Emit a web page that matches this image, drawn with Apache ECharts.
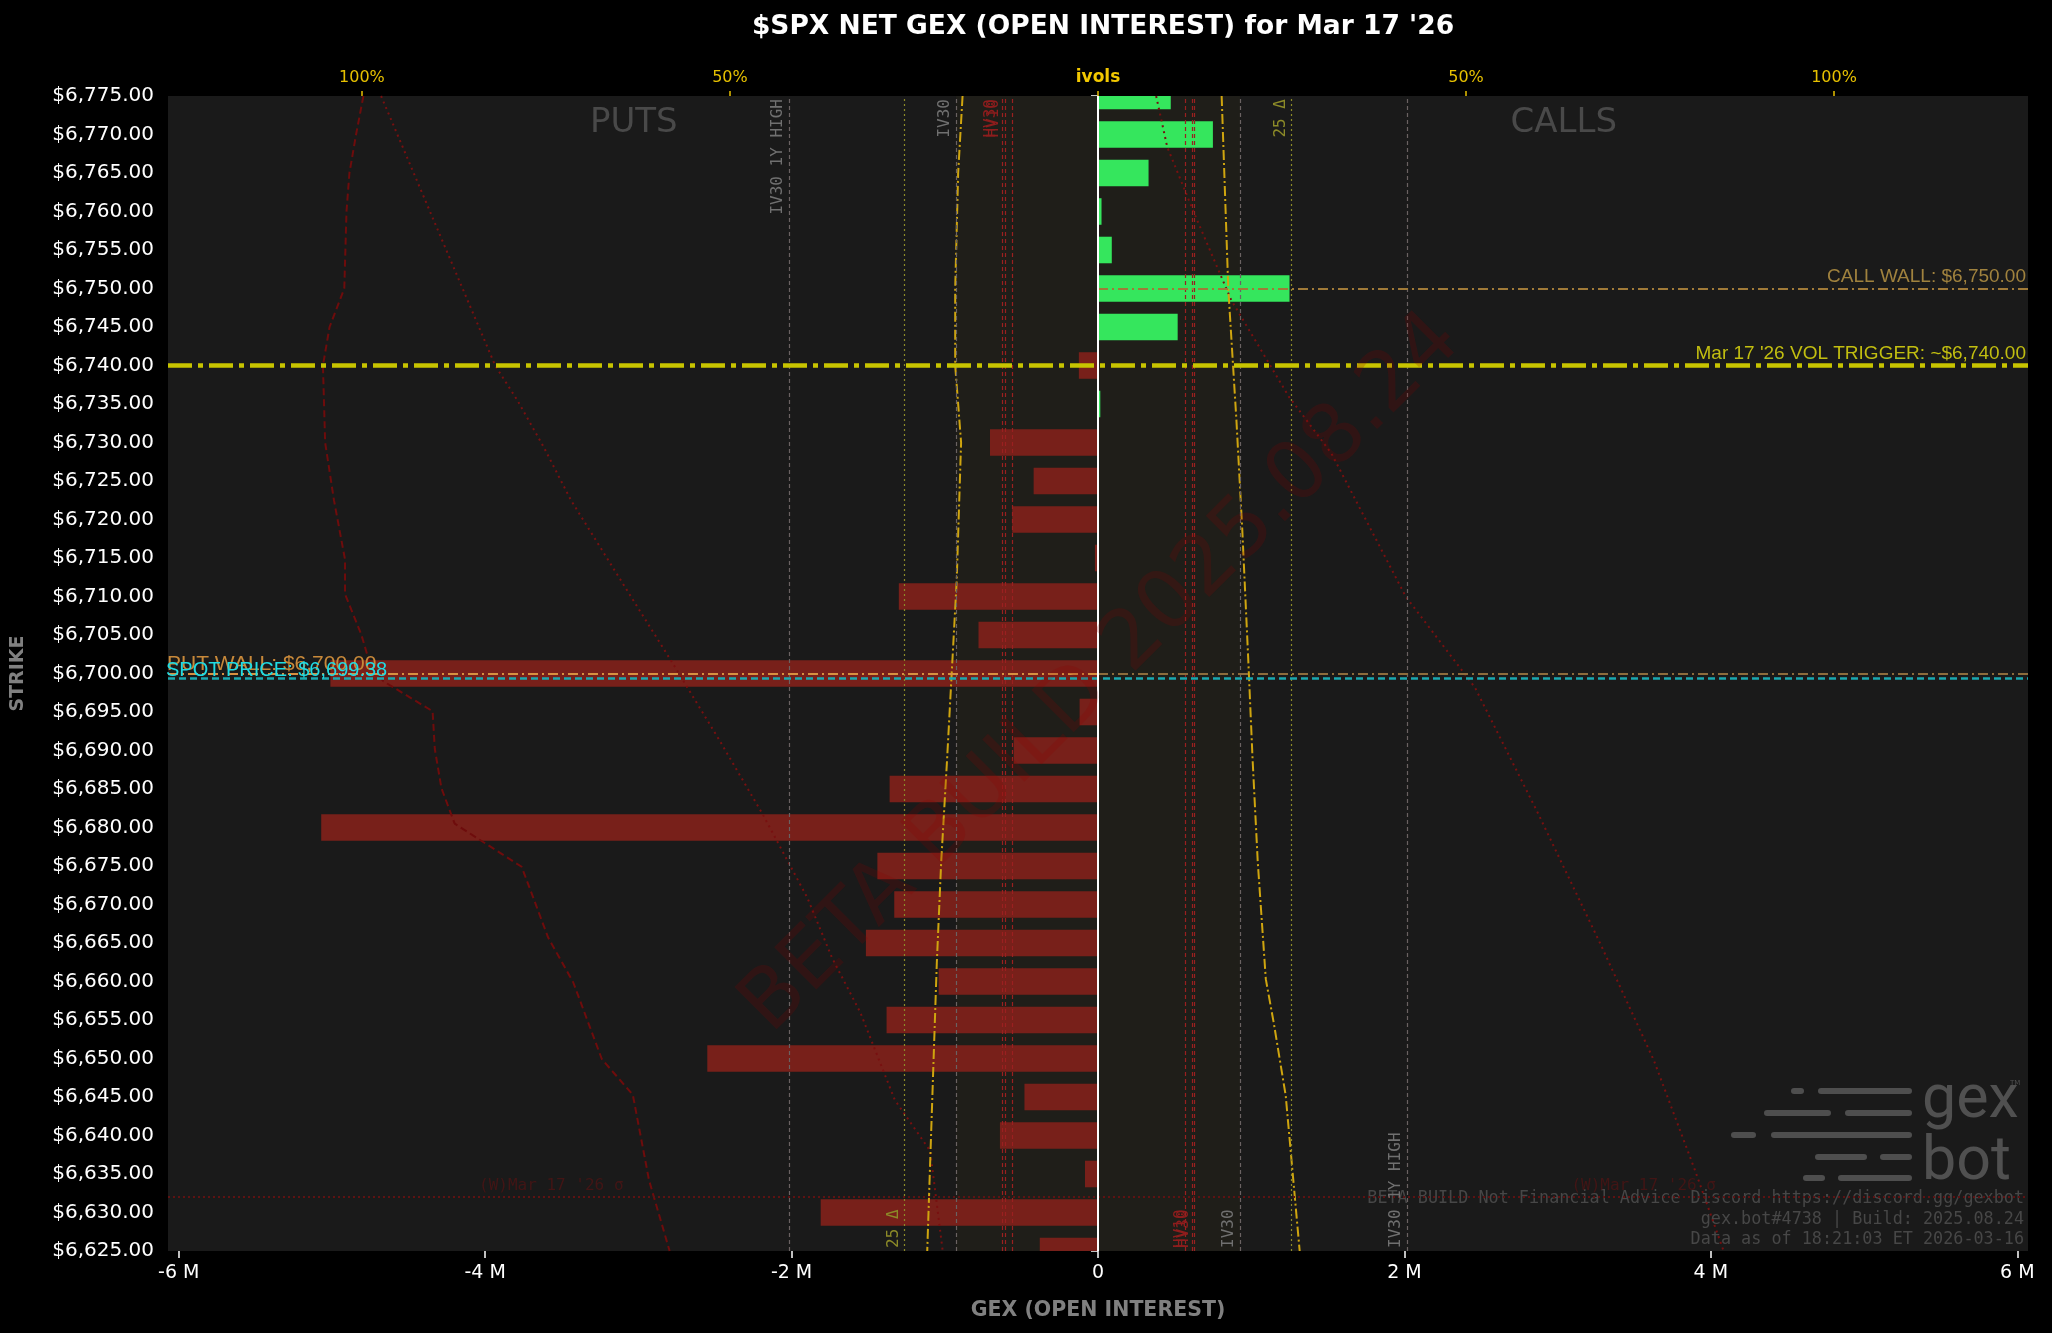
<!DOCTYPE html>
<html>
<head>
<meta charset="utf-8">
<script src="https://cdn.jsdelivr.net/npm/echarts@6/dist/echarts.min.js"></script>
<style>
html, body { margin: 0; padding: 0; background: #000; }
#chart { width: 2052px; height: 1333px; }
</style>
</head>
<body>
<div id="chart"></div>
<script>
// strikes from bottom to top
var strikes = [6625, 6630, 6635, 6640, 6645, 6650, 6655, 6660, 6665, 6670,
	6675, 6680, 6685, 6690, 6695, 6700, 6705, 6710, 6715, 6720,
	6725, 6730, 6735, 6740, 6745, 6750, 6755, 6760, 6765, 6770, 6775];
// net gex by strike, in millions
var netGex = [-0.38, -1.81, -0.085, -0.64, -0.48, -2.55, -1.38, -1.04, -1.515, -1.33,
	-1.44, -5.07, -1.36, -0.55, -0.12, -5.01, -0.78, -1.30, -0.02, -0.56,
	-0.42, -0.705, 0.015, -0.125, 0.52, 1.25, 0.09, 0.023, 0.33, 0.75, 0.475];

var xTicks = [-6, -4, -2, 0, 2, 4, 6];
var ivTicks = [-100, -50, 0, 50, 100];

// ivol curves (percent), puts drawn on the left
var putWingStrikes = [6775, 6770, 6765, 6760, 6750, 6745, 6740, 6730, 6722.5, 6714.8, 6710.3, 6705.1, 6701.2, 6699,
	6695.1, 6690.2, 6685.1, 6680.5, 6674.9, 6665.7, 6659.9, 6649.9, 6645.3, 6634.2, 6625];
var putWingIv = [99.8, 100.8, 101.7, 102.1, 102.4, 104.4, 105.3, 105.0, 103.8, 102.3, 102.3, 100.1, 98.9, 97.1,
	90.4, 90.1, 89.2, 87.4, 78.3, 74.7, 71.3, 67.4, 63.2, 61.0, 58.2];
var putDotStrikes = [6775, 6740, 6735.5, 6729.4, 6722.5, 6709.6, 6701.2, 6691.6, 6681.8, 6670.9, 6663, 6656, 6644.6, 6638, 6625];
var putDotIv = [97.4, 81.9, 78.9, 75.3, 71.6, 63.2, 57.7, 51.6, 45.6, 39.5, 36.1, 32.3, 27.6, 22.8, 21.1];
var callDotStrikes = [6775, 6768.4, 6759.7, 6748.5, 6736, 6728.6, 6710, 6698.2, 6682, 6665, 6649.8, 6635.5, 6625];
var callDotIv = [7.9, 9.4, 13.1, 18.1, 25.9, 31.7, 41.8, 51.2, 59.7, 68.2, 75.5, 81.1, 85.0];
var putSkewStrikes = [6775, 6765, 6750, 6740, 6730, 6712, 6699.6, 6688.9, 6675.6, 6662.4, 6645.2, 6625];
var putSkewIv = [18.4, 19.0, 19.4, 19.4, 18.6, 19.2, 19.9, 20.5, 21.3, 21.9, 22.5, 23.2];
var callSkewStrikes = [6775, 6750, 6733, 6718.7, 6702.1, 6688.9, 6675.6, 6660.3, 6654.5, 6645.2, 6625];
var callSkewIv = [16.8, 17.7, 18.8, 19.6, 20.4, 21.0, 21.7, 22.8, 23.9, 25.5, 27.4];

// levels
var iv30High = 42.0;
var iv30 = 19.3;
var hvLeft = [13.0, 12.6, 11.7];
var hvRight = [11.9, 12.8, 13.1];
var delta25 = 26.3;
var callWall = 6750;
var putWall = 6700;
var volTrigger = 6740;
var spotPrice = 6699.38;
var sigmaLevel = 6632.1;

var XMAX = 6.07;
var IVMAX = 126.35;
var GREEN = '#35e65d';
var RED = '#78201a';

function pairs(xs, ys, sign) {
	var out = [];
	for (var i = 0; i < xs.length; i++) {
		out.push([sign * ys[i], xs[i]]);
	}
	return out;
}
function money(v) {
	return '$' + v.toLocaleString('en-US', { minimumFractionDigits: 2, maximumFractionDigits: 2 });
}

var monoFont = "'DejaVu Sans Mono', monospace";
var labFont = "'Liberation Sans', sans-serif";

function vline(x, color, type, text, pos, labelColor) {
	var item = {
		xAxis: x,
		lineStyle: { color: color, type: type, width: 1.2 },
		label: { show: false }
	};
	if (text) {
		item.label = {
			show: true, formatter: text, position: pos, distance: 3,
			color: labelColor || color, fontFamily: monoFont, fontSize: 16
		};
	}
	return item;
}

// horizontal bar per strike, clipped to the plot like the source
function renderBar(params, api) {
	var v = api.value(0);
	var s = api.value(1);
	var p0 = api.coord([0, s]);
	var p1 = api.coord([v, s]);
	var h = api.size([0, 5])[1] * 0.69;
	return {
		type: 'rect',
		shape: { x: Math.min(p0[0], p1[0]), y: p0[1] - h / 2, width: Math.abs(p1[0] - p0[0]), height: h },
		style: { fill: v >= 0 ? GREEN : RED }
	};
}

var myChart = echarts.init(document.getElementById('chart'));

var option = {
	backgroundColor: '#000',
	animation: false,
	title: {
		text: "$SPX NET GEX (OPEN INTEREST) for Mar 17 '26",
		left: 1098,
		textAlign: 'center',
		top: 9,
		textStyle: { color: '#fff', fontSize: 26.5, fontWeight: 'bold', fontFamily: 'DejaVu Sans' }
	},
	grid: {
		left: 168, right: 24, top: 96, bottom: 82,
		show: true, backgroundColor: '#1a1a1a', borderWidth: 0
	},
	xAxis: [{
		type: 'value', min: -XMAX, max: XMAX, position: 'bottom',
		name: 'GEX (OPEN INTEREST)', nameLocation: 'middle', nameGap: 49,
		nameTextStyle: { color: '#808080', fontWeight: 'bold', fontSize: 20.5, fontFamily: 'DejaVu Sans' },
		axisLine: { show: false },
		splitLine: { show: false },
		axisTick: { show: true, customValues: xTicks, length: 7, lineStyle: { color: '#fff', width: 1.5 } },
		axisLabel: {
			customValues: xTicks, color: '#fff', fontSize: 19, margin: 13, fontFamily: 'DejaVu Sans',
			formatter: function (v) { return v === 0 ? '0' : v + ' M'; }
		}
	}, {
		type: 'value', min: -IVMAX, max: IVMAX, position: 'top',
		axisLine: { show: false },
		splitLine: { show: false },
		axisTick: { show: true, customValues: ivTicks, length: 5, lineStyle: { color: '#e6c000', width: 1.5 } },
		axisLabel: {
			customValues: ivTicks, color: '#e6c000', fontSize: 16, margin: 10, fontFamily: 'DejaVu Sans',
			formatter: function (v) { return v === 0 ? '{b|ivols}' : Math.abs(v) + '%'; },
			rich: { b: { color: '#f2c800', fontWeight: 'bold', fontSize: 17, fontFamily: 'DejaVu Sans' } }
		}
	}],
	yAxis: [{
		type: 'value', min: 6625, max: 6775, interval: 5,
		name: 'STRIKE', nameLocation: 'middle', nameGap: 140, nameRotate: 90,
		nameTextStyle: { color: '#808080', fontWeight: 'bold', fontSize: 19, fontFamily: 'DejaVu Sans' },
		axisLine: { show: false },
		splitLine: { show: false },
		axisTick: { show: true, length: 7, lineStyle: { color: '#fff', width: 1.5 } },
		axisLabel: { color: '#fff', fontSize: 20, margin: 14, fontFamily: 'DejaVu Sans', formatter: money }
	}],
	series: [{
		// iv30 band shading
		type: 'line', xAxisIndex: 1, yAxisIndex: 0, data: [], z: 1,
		markArea: {
			silent: true,
			itemStyle: { color: '#1f1e19' },
			data: [[{ xAxis: -iv30 }, { xAxis: iv30 }]]
		}
	}, {
		name: 'Net GEX',
		type: 'custom', xAxisIndex: 0, yAxisIndex: 0, clip: true, z: 2,
		encode: { x: 0, y: 1 },
		data: strikes.map(function (s, i) { return [netGex[i], s]; }),
		renderItem: renderBar
	}, {
		// vertical reference lines
		type: 'line', xAxisIndex: 1, yAxisIndex: 0, data: [], z: 3,
		markLine: {
			silent: true, symbol: ['none', 'none'],
			data: [
				vline(-iv30High, '#6a6262', [4, 3], 'IV30 1Y HIGH', 'insideEndTop', '#707070'),
				vline(iv30High, '#6a6262', [4, 3], 'IV30 1Y HIGH', 'insideStartTop', '#707070'),
				vline(-iv30, '#6a6262', [4, 3], 'IV30', 'insideEndTop', '#707070'),
				vline(iv30, '#6a6262', [4, 3], 'IV30', 'insideStartTop', '#707070'),
				vline(-hvLeft[0], '#9a2020', [4, 3], 'HV30', 'insideEndTop', '#8e1d1d'),
				vline(-hvLeft[1], '#9a2020', [4, 3], 'HV10', 'insideEndTop', '#8e1d1d'),
				vline(-hvLeft[2], '#9a2020', [4, 3]),
				vline(hvRight[0], '#9a2020', [4, 3]),
				vline(hvRight[1], '#9a2020', [4, 3], 'HV10', 'insideStartTop', '#8e1d1d'),
				vline(hvRight[2], '#9a2020', [4, 3], 'HV30', 'insideStartTop', '#8e1d1d'),
				vline(-delta25, '#8c8a28', [2, 3], '25 Δ', 'insideStartTop', '#8c8a28'),
				vline(delta25, '#8c8a28', [2, 3], '25 Δ', 'insideEndTop', '#8c8a28')
			]
		}
	}, {
		type: 'line', name: 'put wing', xAxisIndex: 1, yAxisIndex: 0, z: 4,
		data: pairs(putWingStrikes, putWingIv, -1), showSymbol: false,
		lineStyle: { color: '#6e0c0c', width: 2, type: [7, 4] }
	}, {
		type: 'line', name: 'put dots', xAxisIndex: 1, yAxisIndex: 0, z: 4,
		data: pairs(putDotStrikes, putDotIv, -1), showSymbol: false,
		lineStyle: { color: '#781010', width: 2, type: [2, 4] }
	}, {
		type: 'line', name: 'call dots', xAxisIndex: 1, yAxisIndex: 0, z: 4,
		data: pairs(callDotStrikes, callDotIv, 1), showSymbol: false,
		lineStyle: { color: '#781010', width: 2, type: [2, 4] }
	}, {
		type: 'line', name: 'put skew', xAxisIndex: 1, yAxisIndex: 0, z: 4,
		data: pairs(putSkewStrikes, putSkewIv, -1), showSymbol: false,
		lineStyle: { color: '#cfa50f', width: 2, type: [10, 3, 2, 3] }
	}, {
		type: 'line', name: 'call skew', xAxisIndex: 1, yAxisIndex: 0, z: 4,
		data: pairs(callSkewStrikes, callSkewIv, 1), showSymbol: false,
		lineStyle: { color: '#cfa50f', width: 2, type: [10, 3, 2, 3] }
	}, {
		// horizontal levels
		type: 'line', xAxisIndex: 0, yAxisIndex: 0, data: [], z: 5,
		markLine: {
			silent: true, symbol: ['none', 'none'],
			data: [
				{
					yAxis: sigmaLevel,
					lineStyle: { color: '#5e1212', width: 2, type: [2, 3] },
					label: { show: false }
				},
				[{
					coord: [0, callWall],
					lineStyle: { color: '#a07a38', width: 2, type: [10, 4, 2, 4] },
					label: {
						show: true, position: 'insideEndTop', formatter: 'CALL WALL: ' + money(callWall),
						color: '#a0823e', fontSize: 19, fontFamily: labFont, distance: 2
					}
				}, { coord: [XMAX, callWall] }],
				[{
					coord: [-XMAX, putWall],
					lineStyle: { color: '#d89040', width: 2, type: [10, 4, 2, 4] },
					label: {
						show: true, position: 'insideStartTop', formatter: 'PUT WALL: ' + money(putWall),
						color: '#c8893a', fontSize: 21, fontFamily: labFont, distance: -1
					}
				}, { coord: [0, putWall] }],
				[{
					coord: [-XMAX, putWall],
					lineStyle: { opacity: 0 },
					label: {
						show: true, position: 'insideStartTop', formatter: 'PUT WALL: ' + money(putWall),
						color: '#a88c3c', fontSize: 19, fontFamily: labFont, distance: -1, padding: [0, 0, 0, 4]
					}
				}, { coord: [0, putWall] }],
				[{
					coord: [0, putWall],
					lineStyle: { color: '#8c6c3c', width: 2, type: [10, 4, 2, 4] },
					label: { show: false }
				}, { coord: [XMAX, putWall] }],
				{
					yAxis: spotPrice,
					lineStyle: { color: '#1aa8b0', width: 2.5, type: [7, 4] },
					label: {
						show: true, position: 'insideStartTop', formatter: 'SPOT PRICE: ' + money(spotPrice),
						color: '#1fdce4', fontSize: 20, fontFamily: labFont, distance: -2
					}
				},
				{
					yAxis: volTrigger,
					lineStyle: { color: '#c8c400', width: 4.5, type: [24, 6, 5, 6] },
					label: {
						show: true, position: 'insideEndTop', formatter: "Mar 17 '26 VOL TRIGGER: ~" + money(volTrigger),
						color: '#c2be10', fontSize: 19, fontFamily: labFont, distance: 2
					}
				}
			]
		}
	}, {
		// zero line
		type: 'line', xAxisIndex: 0, yAxisIndex: 0, data: [], z: 6,
		markLine: {
			silent: true, symbol: ['none', 'none'],
			data: [{ xAxis: 0, lineStyle: { color: '#ffffff', width: 2, type: 'solid' }, label: { show: false } }]
		}
	}, {
		// side captions and sigma labels
		type: 'scatter', xAxisIndex: 0, yAxisIndex: 0, symbolSize: 0, z: 7, silent: true,
		data: [
			{ value: [-3.03, 6771.5], label: { show: true, position: 'inside', formatter: 'PUTS', color: '#555', fontSize: 34, fontFamily: 'DejaVu Sans' } },
			{ value: [3.04, 6771.5], label: { show: true, position: 'inside', formatter: 'CALLS', color: '#555', fontSize: 34, fontFamily: 'DejaVu Sans' } },
			{ value: [-4.04, sigmaLevel], label: { show: true, position: 'right', distance: 0, offset: [0, -10], formatter: "(W)Mar 17 '26 σ", color: '#4c1414', fontSize: 16, fontFamily: monoFont } },
			{ value: [3.09, sigmaLevel], label: { show: true, position: 'right', distance: 0, offset: [0, -10], formatter: "(W)Mar 17 '26 σ", color: '#4c1414', fontSize: 16, fontFamily: monoFont } }
		]
	}],
	graphic: [{
		type: 'text', z: 100, silent: true,
		x: 1102, y: 674, rotation: Math.PI / 4,
		style: {
			text: 'BETA BUILD 2025.08.24', x: 0, y: 0, align: 'center', verticalAlign: 'middle',
			fill: 'rgba(139,0,0,0.2)', font: '82px DejaVu Sans'
		}
	}, {
		type: 'group', z: 90, silent: true,
		children: [
			{ type: 'rect', shape: { x: 1791, y: 1088, width: 13, height: 6, r: 3 }, style: { fill: '#4e4e4e' } },
			{ type: 'rect', shape: { x: 1818, y: 1088, width: 94, height: 6, r: 3 }, style: { fill: '#4e4e4e' } },
			{ type: 'rect', shape: { x: 1764, y: 1110, width: 67, height: 6, r: 3 }, style: { fill: '#4e4e4e' } },
			{ type: 'rect', shape: { x: 1845, y: 1110, width: 67, height: 6, r: 3 }, style: { fill: '#4e4e4e' } },
			{ type: 'rect', shape: { x: 1731, y: 1132, width: 25, height: 6, r: 3 }, style: { fill: '#4e4e4e' } },
			{ type: 'rect', shape: { x: 1771, y: 1132, width: 141, height: 6, r: 3 }, style: { fill: '#4e4e4e' } },
			{ type: 'rect', shape: { x: 1815, y: 1154, width: 52, height: 6, r: 3 }, style: { fill: '#4e4e4e' } },
			{ type: 'rect', shape: { x: 1880, y: 1154, width: 32, height: 6, r: 3 }, style: { fill: '#4e4e4e' } },
			{ type: 'rect', shape: { x: 1803, y: 1175, width: 22, height: 6, r: 3 }, style: { fill: '#4e4e4e' } },
			{ type: 'rect', shape: { x: 1838, y: 1175, width: 74, height: 6, r: 3 }, style: { fill: '#4e4e4e' } },
			{ type: 'text', style: { text: 'gex', x: 1922, y: 1102, verticalAlign: 'middle', fill: '#505050', font: '61px Roboto' } },
			{ type: 'text', style: { text: 'bot', x: 1922, y: 1164, verticalAlign: 'middle', fill: '#505050', font: '61px Roboto' } },
			{ type: 'text', style: { text: 'TM', x: 2010, y: 1080, fill: '#505050', font: '7px DejaVu Sans' } }
		]
	}, {
		type: 'group', z: 90, silent: true,
		children: [
			{ type: 'text', style: { text: 'BETA BUILD Not Financial Advice Discord https://discord.gg/gexbot', x: 2024, y: 1199, align: 'right', verticalAlign: 'middle', fill: '#474747', font: '16.8px DejaVu Sans Mono' } },
			{ type: 'text', style: { text: 'gex.bot#4738 | Build: 2025.08.24', x: 2024, y: 1220, align: 'right', verticalAlign: 'middle', fill: '#474747', font: '16.8px DejaVu Sans Mono' } },
			{ type: 'text', style: { text: 'Data as of 18:21:03 ET 2026-03-16', x: 2024, y: 1240, align: 'right', verticalAlign: 'middle', fill: '#474747', font: '16.8px DejaVu Sans Mono' } }
		]
	}]
};

myChart.setOption(option);
window.onresize = function () {
	myChart.resize();
};
</script>
</body>
</html>
